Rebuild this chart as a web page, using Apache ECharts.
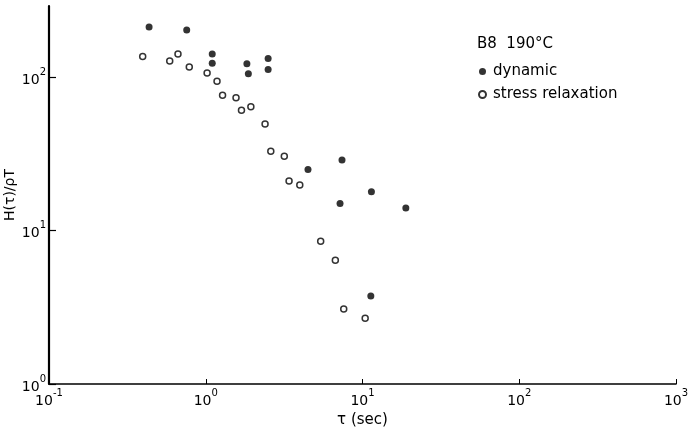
<!DOCTYPE html>
<html>
<head>
<meta charset="utf-8">
<script src="https://cdn.jsdelivr.net/npm/echarts@6/dist/echarts.min.js"></script>
<style>
  html, body { margin: 0; padding: 0; background: #fff; }
  #chart { width: 692px; height: 430px; }
</style>
</head>
<body>
<div id="chart"></div>
<script>
// Relaxation spectrum H(tau)/rhoT for sample B8 at 190 °C
const dynamicTau = [0.435, 0.756, 1.10, 1.10, 1.83, 1.87, 2.50, 2.50, 4.49, 7.40, 7.19, 11.4, 18.9, 11.3];
const dynamicH   = [212, 202, 141, 123, 122, 105, 132, 112, 25.0, 28.8, 15.0, 17.9, 14.0, 3.74];

const relaxTau = [0.396, 0.589, 0.665, 0.785, 1.02, 1.18, 1.28, 1.56, 1.69, 1.94, 2.39, 2.60, 3.17, 3.40, 3.98, 5.41, 6.71, 7.59, 10.4];
const relaxH   = [136, 127, 141, 116, 106, 93.7, 76.0, 73.3, 60.7, 64.0, 49.4, 32.8, 30.4, 21.0, 19.8, 8.50, 6.40, 3.08, 2.68];

const xTicks = [0.1, 1, 10, 100, 1000];
const yTicks = [1, 10, 100];

const seriesNames = ['dynamic', 'stress relaxation'];
const headerText = 'B8  190°C';

const ink = '#000';
const font = 'DejaVu Sans';

function pow10Label(v) {
  const e = Math.round(Math.log10(v));
  return '{b|10}{s|' + e + '}';
}
const powRich = {
  b: { fontFamily: font, fontSize: 14, color: ink, lineHeight: 20, verticalAlign: 'bottom' },
  s: { fontFamily: font, fontSize: 10, color: ink, lineHeight: 20, verticalAlign: 'top' }
};

const chart = echarts.init(document.getElementById('chart'), null, { renderer: 'canvas' });

chart.setOption({
  backgroundColor: '#fff',
  animation: false,
  grid: { left: 49, right: 16, top: 6, bottom: 46, containLabel: false, outerBoundsMode: 'none' },
  xAxis: {
    type: 'log',
    logBase: 10,
    min: 0.1,
    max: 1000,
    name: 'τ (sec)',
    nameLocation: 'middle',
    nameGap: 28,
    nameTextStyle: { fontFamily: font, fontSize: 15, color: ink },
    axisLine: { lineStyle: { color: ink, width: 1.6 } },
    axisTick: { inside: true, length: 5, lineStyle: { color: ink, width: 1 }, customValues: xTicks },
    minorTick: { show: false },
    splitLine: { show: false },
    axisLabel: {
      customValues: xTicks,
      margin: 4,
      formatter: pow10Label,
      rich: powRich
    }
  },
  yAxis: {
    type: 'log',
    logBase: 10,
    min: 1,
    max: 290,
    name: 'H(τ)/ρT',
    nameLocation: 'middle',
    nameGap: 32,
    nameMoveOverlap: false,
    nameTextStyle: { fontFamily: font, fontSize: 14, color: ink },
    axisLine: { lineStyle: { color: ink, width: 2.2 } },
    axisTick: { inside: true, length: 7, lineStyle: { color: ink, width: 1.2 }, customValues: yTicks },
    minorTick: { show: false },
    splitLine: { show: false },
    axisLabel: {
      customValues: yTicks,
      margin: 3,
      formatter: pow10Label,
      rich: powRich
    }
  },
  legend: {
    orient: 'vertical',
    left: 478,
    top: 64,
    padding: 0,
    itemWidth: 7,
    itemHeight: 7,
    itemGap: 8,
    data: seriesNames,
    textStyle: { fontFamily: font, fontSize: 15, color: ink, padding: [0, 0, 0, 2] }
  },
  graphic: [{
    type: 'text',
    left: 477,
    top: 37,
    style: { text: headerText, fontFamily: font, fontSize: 15, fill: ink }
  }],
  series: [
    {
      name: seriesNames[0],
      type: 'scatter',
      symbol: 'circle',
      symbolSize: 7,
      itemStyle: { color: ink },
      data: dynamicTau.map((t, i) => [t, dynamicH[i]])
    },
    {
      name: seriesNames[1],
      type: 'scatter',
      symbol: 'circle',
      symbolSize: 6,
      itemStyle: { color: '#fff', borderColor: ink, borderWidth: 1.5 },
      data: relaxTau.map((t, i) => [t, relaxH[i]])
    }
  ]
});
</script>
</body>
</html>
